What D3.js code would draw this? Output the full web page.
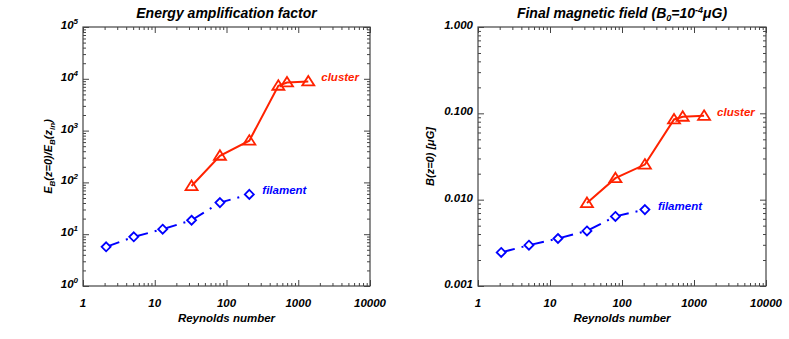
<!DOCTYPE html>
<html>
<head>
<meta charset="utf-8">
<script src="https://cdn.jsdelivr.net/npm/d3@7"></script>
<style>
  body { margin: 0; background: #fff; }
  svg text { font-family: "Liberation Sans", Arial, sans-serif; font-weight: bold; font-style: italic; }
</style>
</head>
<body>
<div class="charts"></div>
<script>
// chart data
const reynolds_fil = [2.1, 5.1, 12.9, 32.6, 81, 208];
const reynolds_clu = [32.6, 81, 208, 528, 697, 1380];
const energy_fil = [5.7, 8.9, 12.5, 18.6, 40.7, 58.7];
const energy_clu = [85, 327, 640, 7350, 8500, 8900];
const bfield_fil = [0.00245, 0.00297, 0.00355, 0.00434, 0.0064, 0.00767];
const bfield_clu = [0.00914, 0.01775, 0.0255, 0.085, 0.0913, 0.0935];
const x_ticks = [1, 10, 100, 1000, 10000];
const x_tick_labels = ["1", "10", "100", "1000", "10000"];
const e_ticks = [1, 10, 100, 1000, 10000, 100000];
const e_tick_exp = ["0", "1", "2", "3", "4", "5"];
const b_ticks = [0.001, 0.01, 0.1, 1];
const b_tick_labels = ["0.001", "0.010", "0.100", "1.000"];

const W = 789, H = 339;
const RED = "#ff2200", BLUE = "#0000ff";

const svg = d3.select(".charts")
  .append("svg")
  .attr("width", W)
  .attr("height", H);

function minor_ticks(lo, hi) {
  let arr = [];
  for (let d = lo; d < hi; d *= 10) {
    for (let k = 2; k <= 9; k++) arr.push(d * k);
  }
  return arr;
}

function draw_panel(p) {
  const xScale = d3.scaleLog().domain([1, 10000]).range([p.left, p.right]);
  const yScale = d3.scaleLog().domain(p.ydomain).range([p.bottom, p.top]);
  const g = svg.append("g");

  // box
  g.append("rect")
   .attr("x", p.left).attr("y", p.top)
   .attr("width", p.right - p.left).attr("height", p.bottom - p.top)
   .attr("fill", "none").attr("stroke", "#444").attr("stroke-width", 1.2);

  const xmin = minor_ticks(1, 10000);
  const ymin = minor_ticks(p.ydomain[0], p.ydomain[1]);

  // ticks pointing inwards on all four sides
  const sides = [
    {ax: d3.axisBottom(xScale), t: "translate(0," + p.bottom + ")", maj: x_ticks, min: xmin},
    {ax: d3.axisTop(xScale), t: "translate(0," + p.top + ")", maj: x_ticks, min: xmin},
    {ax: d3.axisLeft(yScale), t: "translate(" + p.left + ",0)", maj: p.yticks, min: ymin},
    {ax: d3.axisRight(yScale), t: "translate(" + p.right + ",0)", maj: p.yticks, min: ymin}
  ];
  sides.forEach(s => {
    g.append("g").attr("transform", s.t)
     .call(s.ax.tickValues(s.maj).tickSize(-6).tickFormat(""))
     .call(a => a.select(".domain").remove())
     .selectAll("line").attr("stroke", "#444");
    g.append("g").attr("transform", s.t)
     .call(s.ax.tickValues(s.min).tickSize(-3).tickFormat(""))
     .call(a => a.select(".domain").remove())
     .selectAll("line").attr("stroke", "#444");
  });

  // x tick labels
  g.selectAll(".xlab").data(x_ticks).enter()
   .append("text")
   .attr("x", d => xScale(d))
   .attr("y", p.bottom + 21)
   .attr("text-anchor", "middle")
   .style("font-size", "11.5px")
   .text((d, i) => x_tick_labels[i]);

  // y tick labels
  const ylab = g.selectAll(".ylab").data(p.yticks).enter()
   .append("text")
   .attr("x", p.left - 5)
   .attr("y", d => yScale(d) + 2)
   .attr("text-anchor", "end")
   .style("font-size", "11.5px");
  if (p.exp) {
    ylab.append("tspan").text("10");
    ylab.append("tspan").attr("dy", -5).style("font-size", "8px").text((d, i) => p.exp[i]);
  } else {
    ylab.text((d, i) => p.ylabels[i]);
  }

  // x axis title
  g.append("text")
   .attr("x", (p.left + p.right) / 2)
   .attr("y", p.bottom + 36)
   .attr("text-anchor", "middle")
   .style("font-size", "11.5px")
   .text("Reynolds number");

  // title
  const title = g.append("text")
   .attr("x", (p.left + p.right) / 2)
   .attr("y", 18)
   .attr("text-anchor", "middle")
   .style("font-size", "14px");
  p.title(title);

  // y axis title
  const ytitle = g.append("text")
   .attr("transform", "translate(" + p.ytx + "," + (p.top + p.bottom) / 2 + ") rotate(-90)")
   .attr("text-anchor", "middle")
   .style("font-size", "11px");
  p.ytitle(ytitle);

  // series
  const line = d3.line().x(d => xScale(d[0])).y(d => yScale(d[1]));
  const fil = reynolds_fil.map((r, i) => [r, p.fil[i]]);
  const clu = reynolds_clu.map((r, i) => [r, p.clu[i]]);

  g.append("path").datum(fil)
   .attr("d", line).attr("fill", "none")
   .attr("stroke", BLUE).attr("stroke-width", 2)
   .attr("stroke-dasharray", "14,7,2,7");
  g.append("path").datum(clu)
   .attr("d", line).attr("fill", "none")
   .attr("stroke", RED).attr("stroke-width", 2);

  g.selectAll(".diamond").data(fil).enter()
   .append("path")
   .attr("d", "M0,-4.5L4.5,0L0,4.5L-4.5,0Z")
   .attr("transform", d => "translate(" + xScale(d[0]) + "," + yScale(d[1]) + ")")
   .attr("fill", "#fff").attr("stroke", BLUE).attr("stroke-width", 1.8);
  g.selectAll(".triangle").data(clu).enter()
   .append("path")
   .attr("d", "M0,-5.5L6,4L-6,4Z")
   .attr("transform", d => "translate(" + xScale(d[0]) + "," + yScale(d[1]) + ")")
   .attr("fill", "none").attr("stroke", RED).attr("stroke-width", 1.8);

  // series labels next to the last point
  const lf = fil[fil.length - 1], lc = clu[clu.length - 1];
  g.append("text")
   .attr("x", xScale(lf[0]) + 13).attr("y", yScale(lf[1]))
   .style("font-size", "11.5px").attr("fill", BLUE).text("filament");
  g.append("text")
   .attr("x", xScale(lc[0]) + 13).attr("y", yScale(lc[1]))
   .style("font-size", "11.5px").attr("fill", RED).text("cluster");
}

draw_panel({
  left: 83, right: 370, top: 27, bottom: 286,
  ydomain: [1, 100000], yticks: e_ticks, exp: e_tick_exp,
  fil: energy_fil, clu: energy_clu, ytx: 52,
  title: t => t.text("Energy amplification factor"),
  ytitle: t => {
    t.append("tspan").text("E");
    t.append("tspan").attr("dy", 3).style("font-size", "8px").text("B");
    t.append("tspan").attr("dy", -3).text("(z=0)/E");
    t.append("tspan").attr("dy", 3).style("font-size", "8px").text("B");
    t.append("tspan").attr("dy", -3).text("(z");
    t.append("tspan").attr("dy", 3).style("font-size", "8px").text("in");
    t.append("tspan").attr("dy", -3).text(")");
  }
});

draw_panel({
  left: 478, right: 766, top: 27, bottom: 286,
  ydomain: [0.001, 1], yticks: b_ticks, ylabels: b_tick_labels,
  fil: bfield_fil, clu: bfield_clu, ytx: 434,
  title: t => {
    t.append("tspan").text("Final magnetic field (B");
    t.append("tspan").attr("dy", 3).style("font-size", "9px").text("0");
    t.append("tspan").attr("dy", -3).text("=10");
    t.append("tspan").attr("dy", -5).style("font-size", "9px").text("-4");
    t.append("tspan").attr("dy", 5).text("\u03bcG)");
  },
  ytitle: t => t.text("B(z=0) [\u03bcG]")
});
</script>
</body>
</html>
